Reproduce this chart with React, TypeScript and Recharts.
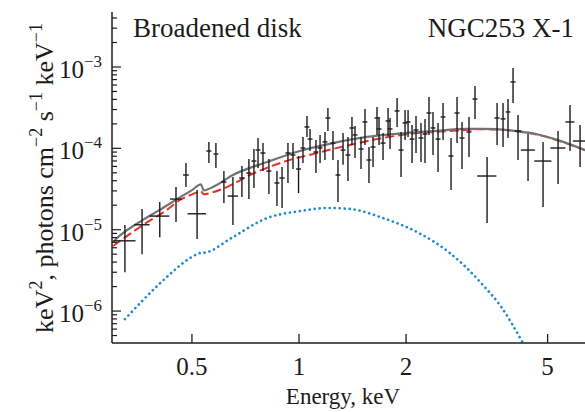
import { ComposedChart, Line, Scatter, ErrorBar, XAxis, YAxis } from "recharts";

// Observed spectrum (keV, keV^2 photons cm^-2 s^-1 keV^-1)
const energy = [
  0.324, 0.362, 0.406, 0.451, 0.481, 0.517, 0.558, 0.584, 0.615, 0.652,
  0.691, 0.723, 0.747, 0.767, 0.792, 0.823, 0.867, 0.896, 0.931, 0.962,
  0.997, 1.026, 1.053, 1.074, 1.116, 1.146, 1.183, 1.206, 1.246, 1.287,
  1.33, 1.373, 1.409, 1.437, 1.494, 1.533, 1.573, 1.615, 1.657, 1.679,
  1.723, 1.78, 1.803, 1.887, 1.936, 1.987, 2.026, 2.079, 2.133, 2.203,
  2.261, 2.32, 2.381, 2.46, 2.541, 2.676, 2.782, 2.873, 3.006, 3.125,
  3.379, 3.605, 3.747, 3.87, 3.998, 4.129, 4.405, 4.855, 5.35, 5.781, 6.17,
];
const energyHalfWidth = [
  0.023, 0.018, 0.026, 0.017, 0.009, 0.031, 0.009, 0.009, 0.01, 0.022,
  0.012, 0.012, 0.012, 0.012, 0.013, 0.013, 0.014, 0.015, 0.015, 0.015,
  0.016, 0.016, 0.017, 0.017, 0.018, 0.018, 0.019, 0.019, 0.02, 0.02,
  0.021, 0.022, 0.022, 0.023, 0.024, 0.024, 0.025, 0.026, 0.026, 0.027,
  0.028, 0.028, 0.029, 0.03, 0.031, 0.032, 0.032, 0.033, 0.034, 0.035,
  0.036, 0.037, 0.038, 0.039, 0.04, 0.043, 0.045, 0.046, 0.048, 0.05,
  0.21, 0.06, 0.06, 0.06, 0.065, 0.09, 0.2, 0.27, 0.26, 0.17, 0.28,
];
const flux = [
  7.3e-6, 1.15e-5, 1.47e-5, 2.38e-5, 4.7e-5, 1.57e-5, 9.27e-5, 8.52e-5, 3.85e-5, 2.59e-5,
  4.32e-5, 4.97e-5, 6.98e-5, 9.53e-5, 8.77e-5, 5.26e-5, 3.75e-5, 4.32e-5, 8.77e-5, 8.28e-5,
  5.57e-5, 1.01e-4, 1.83e-4, 1.3e-4, 9.01e-5, 1.01e-4, 1.2e-4, 2.36e-4, 1.16e-4, 4.7e-5,
  9.53e-5, 8.28e-5, 1.78e-4, 1.46e-4, 9.81e-5, 2.11e-4, 7.19e-5, 1.04e-4, 2.36e-4, 1.73e-4,
  1.16e-4, 2.17e-4, 1.73e-4, 2.88e-4, 9.53e-5, 2.05e-4, 2.11e-4, 1.3e-4, 1.68e-4, 1.34e-4,
  1.5e-4, 2.72e-4, 1.78e-4, 1.3e-4, 2.43e-4, 8.05e-5, 2.72e-4, 1.34e-4, 1.59e-4, 4.04e-4,
  4.57e-5, 2.36e-4, 2.3e-4, 2.8e-4, 6.54e-4, 1.63e-4, 9.53e-5, 6.98e-5, 1.01e-4, 2.11e-4, 1.23e-4,
];
const fluxHigh = [
  1.14e-5, 1.8e-5, 2.19e-5, 3.34e-5, 6.6e-5, 3.07e-5, 1.2e-4, 1.16e-4, 5.26e-5, 4.44e-5,
  6.06e-5, 7.39e-5, 9.81e-5, 1.34e-4, 1.16e-4, 7.39e-5, 5.26e-5, 5.89e-5, 1.16e-4, 1.16e-4,
  8.05e-5, 1.38e-4, 2.5e-4, 1.73e-4, 1.27e-4, 1.46e-4, 1.59e-4, 3.13e-4, 1.63e-4, 7.19e-5,
  1.54e-4, 1.38e-4, 2.43e-4, 1.88e-4, 1.38e-4, 3.05e-4, 1.04e-4, 1.38e-4, 3.22e-4, 2.43e-4,
  1.54e-4, 3.13e-4, 2.36e-4, 4.16e-4, 1.59e-4, 2.96e-4, 2.96e-4, 1.94e-4, 2.5e-4, 2.05e-4,
  2.3e-4, 4.28e-4, 2.8e-4, 2.05e-4, 3.61e-4, 1.34e-4, 4.28e-4, 2.11e-4, 2.43e-4, 5.84e-4,
  7.82e-5, 3.61e-4, 3.61e-4, 4.04e-4, 9.72e-4, 2.57e-4, 1.5e-4, 1.2e-4, 1.63e-4, 3.41e-4, 1.94e-4,
];
const fluxLow = [
  3.0e-6, 5.0e-6, 8.1e-6, 1.24e-5, 3.34e-5, 7.7e-6, 6.6e-5, 5.73e-5, 2.13e-5, 1.14e-5,
  2.52e-5, 2.38e-5, 3.25e-5, 5.73e-5, 5.26e-5, 2.74e-5, 1.95e-5, 1.85e-5, 3.75e-5, 5.57e-5,
  2.82e-5, 6.6e-5, 1.38e-4, 9.27e-5, 4.97e-5, 6.6e-5, 7.19e-5, 1.63e-4, 7.19e-5, 2.19e-5,
  6.3e-5, 3.96e-5, 1.1e-4, 7.6e-5, 5.57e-5, 1.1e-4, 3.75e-5, 5.89e-5, 1.46e-4, 1.1e-4,
  7.19e-5, 1.42e-4, 9.81e-5, 1.83e-4, 4.44e-5, 1.27e-4, 1.38e-4, 6.6e-5, 8.77e-5, 6.79e-5,
  6.6e-5, 1.46e-4, 8.28e-5, 5.12e-5, 1.27e-4, 3.07e-5, 1.16e-4, 5.57e-5, 7.82e-5, 2.3e-4,
  1.21e-5, 1.1e-4, 1.04e-4, 1.34e-4, 3.61e-4, 7.19e-5, 3.96e-5, 1.9e-5, 3.64e-5, 9.27e-5, 5.9e-5,
];

// total model (gray), disk component (red dashed), extra component (blue dotted)
const totalE = [0.3, 0.308, 0.364, 0.406, 0.454, 0.5, 0.53, 0.54, 0.58, 0.652, 0.813, 1.006, 1.246, 1.553, 1.987, 2.381, 2.968, 3.29, 4.1, 4.76, 5.32, 6.37];
const totalF = [7.05e-6, 7.9e-6, 1.32e-5, 1.75e-5, 2.38e-5, 3.07e-5, 3.6e-5, 3.05e-5, 3.45e-5, 4.7e-5, 6.79e-5, 9.27e-5, 1.16e-4, 1.38e-4, 1.54e-4, 1.63e-4, 1.73e-4, 1.73e-4, 1.63e-4, 1.46e-4, 1.27e-4, 9.53e-5];
const diskE = [0.3, 0.364, 0.425, 0.463, 0.503, 0.53, 0.54, 0.562, 0.627, 0.728, 0.902, 1.124, 1.391, 1.723, 2.147, 2.658, 3.29, 4.1, 4.76, 5.32, 6.37];
const diskF = [6.3e-6, 1.14e-5, 1.75e-5, 2.32e-5, 2.74e-5, 2.95e-5, 2.72e-5, 2.82e-5, 3.34e-5, 4.7e-5, 6.79e-5, 8.77e-5, 1.1e-4, 1.34e-4, 1.54e-4, 1.63e-4, 1.72e-4, 1.62e-4, 1.45e-4, 1.26e-4, 9.45e-5];
const softE = [0.324, 0.364, 0.425, 0.494, 0.53, 0.545, 0.652, 0.813, 1.006, 1.199, 1.391, 1.723, 2.147, 2.658, 3.29, 3.675, 4.265, 4.45];
const softF = [7.96e-7, 1.36e-6, 2.62e-6, 4.48e-6, 5.2e-6, 5.25e-6, 8.12e-6, 1.39e-5, 1.69e-5, 1.85e-5, 1.8e-5, 1.39e-5, 9.35e-6, 5.16e-6, 2.09e-6, 1.18e-6, 4.04e-7, 2.9e-7];

const xTicks = [0.5, 1, 2, 5];
const xTickLabels = ["0.5", "1", "2", "5"];
const yMajorTicks = [1e-6, 1e-5, 1e-4, 1e-3];
const yMajorExp = ["−6", "−5", "−4", "−3"];
const yMinorTicks = [
  5e-7, 6e-7, 7e-7, 8e-7, 9e-7,
  2e-6, 3e-6, 4e-6, 5e-6, 6e-6, 7e-6, 8e-6, 9e-6,
  2e-5, 3e-5, 4e-5, 5e-5, 6e-5, 7e-5, 8e-5, 9e-5,
  2e-4, 3e-4, 4e-4, 5e-4, 6e-4, 7e-4, 8e-4, 9e-4,
  2e-3, 3e-3, 4e-3,
];

const FONT = "'Liberation Serif', 'Times New Roman', serif";
const INK = "#1c1c1c";

const points = energy.map((e, i) => ({
  e,
  f: flux[i],
  fErr: [flux[i] - fluxLow[i], fluxHigh[i] - flux[i]],
  eErr: energyHalfWidth[i],
}));
const toSeries = (xs: number[], ys: number[]) => xs.map((e, i) => ({ e, f: ys[i] }));
const total = toSeries(totalE, totalF);
const disk = toSeries(diskE, diskF);
const soft = toSeries(softE, softF);

function XTick({ x, y, payload }: any) {
  const idx = xTicks.indexOf(payload.value);
  return (
    <g>
      <line x1={x} x2={x} y1={y} y2={y - 9} stroke={INK} strokeWidth={1.3} />
      <text x={x} y={y + 32} textAnchor="middle" fontFamily={FONT} fontSize={25} fill={INK}>
        {xTickLabels[idx]}
      </text>
    </g>
  );
}

function YTick({ x, y, payload }: any) {
  const idx = yMajorTicks.indexOf(payload.value);
  const major = idx >= 0;
  return (
    <g>
      <line x1={x} x2={x + (major ? 9 : 5)} y1={y} y2={y} stroke={INK} strokeWidth={1.2} />
      {major && (
        <text x={x - 10} y={y + 11} textAnchor="end" fontFamily={FONT} fontSize={25} fill={INK}>
          10
          <tspan dy={-11} fontSize={17}>
            {yMajorExp[idx]}
          </tspan>
        </text>
      )}
    </g>
  );
}

export default function App() {
  return (
    <div style={{ position: "absolute", left: 0, top: 0, width: 585, height: 412, background: "#fff" }}>
      <ComposedChart width={585} height={412} margin={{ top: 12, right: 0, bottom: 0, left: 0 }}>
        <XAxis
          dataKey="e"
          type="number"
          scale="log"
          domain={[0.298, 6.37]}
          allowDataOverflow
          ticks={xTicks}
          interval={0}
          height={69}
          tickSize={0}
          tickMargin={0}
          tickLine={false}
          axisLine={{ stroke: INK, strokeWidth: 1.5 }}
          tick={<XTick />}
        />
        <YAxis
          type="number"
          scale="log"
          domain={[4.05e-7, 4.74e-3]}
          allowDataOverflow
          ticks={[...yMinorTicks, ...yMajorTicks].sort((a, b) => a - b)}
          interval={0}
          width={112}
          tickSize={0}
          tickMargin={0}
          tickLine={false}
          axisLine={{ stroke: INK, strokeWidth: 1.5 }}
          tick={<YTick />}
        />
        <Line
          data={soft}
          dataKey="f"
          type="monotone"
          stroke="#1d8bd0"
          strokeWidth={2.7}
          strokeDasharray="0.01 5"
          strokeLinecap="round"
          dot={false}
          isAnimationActive={false}
        />
        <Line
          data={disk}
          dataKey="f"
          type="monotone"
          stroke="#e6302a"
          strokeWidth={2}
          strokeDasharray="9 4"
          dot={false}
          isAnimationActive={false}
        />
        <Line
          data={total}
          dataKey="f"
          type="monotone"
          stroke="#737373"
          strokeWidth={2.2}
          dot={false}
          isAnimationActive={false}
        />
        <Scatter data={points} dataKey="f" shape={() => <g />} isAnimationActive={false}>
          <ErrorBar dataKey="fErr" direction="y" width={0} stroke={INK} strokeWidth={1.4} />
          <ErrorBar dataKey="eErr" direction="x" width={0} stroke={INK} strokeWidth={1.4} />
        </Scatter>
      </ComposedChart>
      <svg
        width={585}
        height={412}
        style={{ position: "absolute", left: 0, top: 0, pointerEvents: "none" }}
      >
        <g fontFamily={FONT} fill={INK}>
          <text x={133} y={37} fontSize={27}>
            Broadened disk
          </text>
          <text x={574} y={37} fontSize={27} textAnchor="end">
            NGC253 X-1
          </text>
          <text x={343} y={404} fontSize={23} textAnchor="middle">
            Energy, keV
          </text>
          <text transform="translate(53,178) rotate(-90)" fontSize={26} textAnchor="middle">
            keV<tspan dy={-11} fontSize={18}>2</tspan>
            <tspan dy={11}>, photons cm</tspan>
            <tspan dy={-11} fontSize={18}>−2</tspan>
            <tspan dy={11}> s</tspan>
            <tspan dy={-11} fontSize={18}>−1</tspan>
            <tspan dy={11}> keV</tspan>
            <tspan dy={-11} fontSize={18}>−1</tspan>
          </text>
        </g>
      </svg>
    </div>
  );
}
